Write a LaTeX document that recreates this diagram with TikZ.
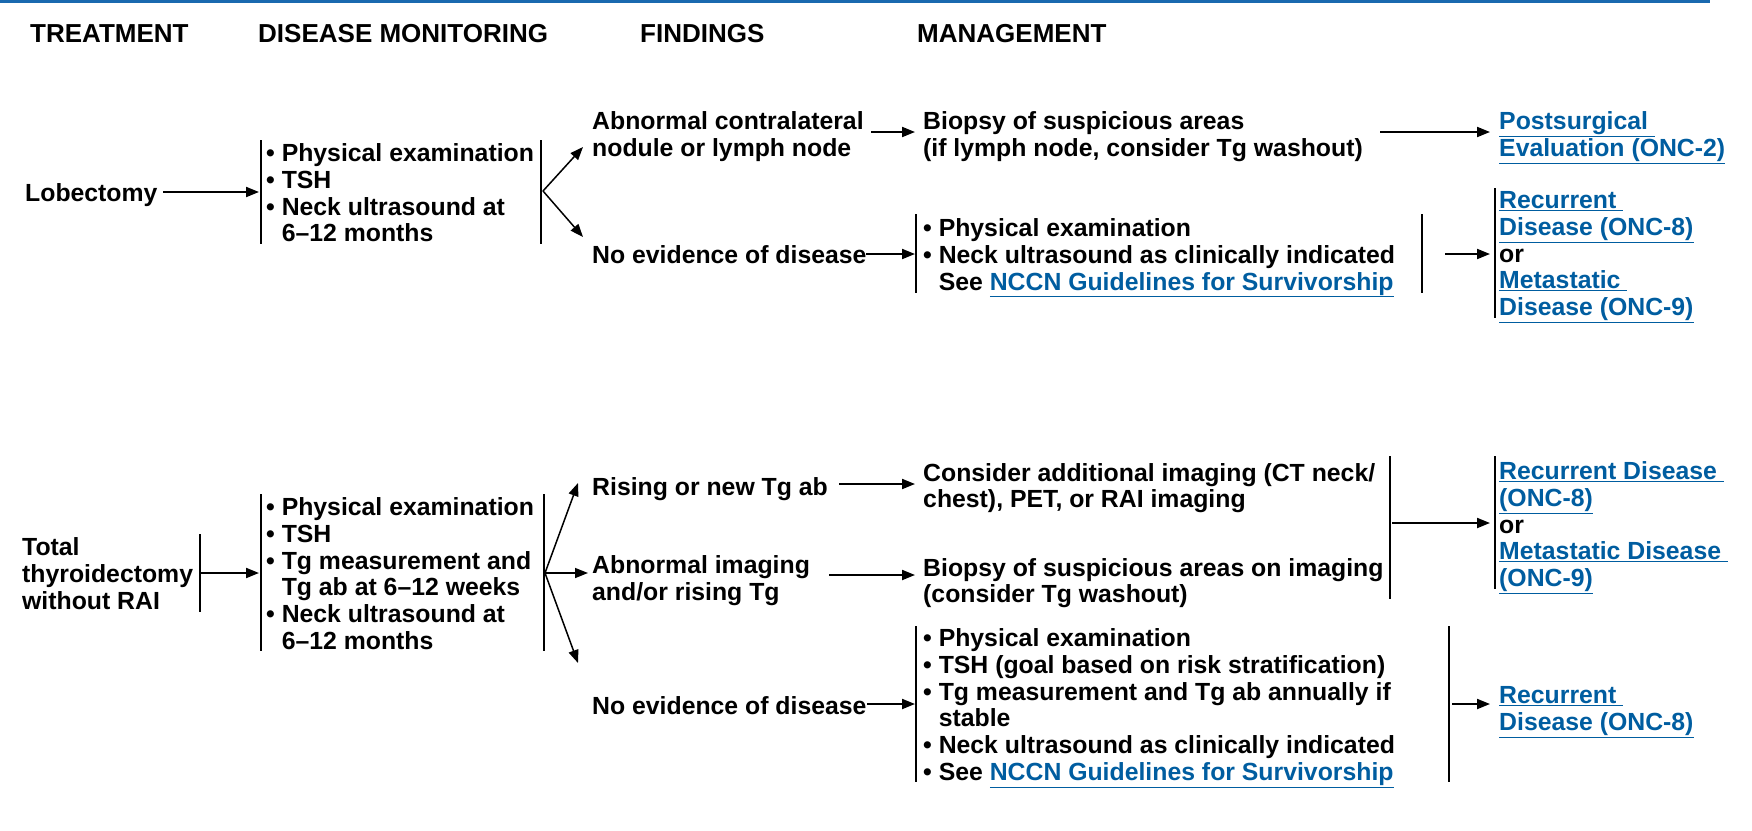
\documentclass[tikz,border=0pt]{standalone}
\usepackage{fontspec}
\setmainfont{Liberation Sans}
\usetikzlibrary{arrows.meta}
\definecolor{lnk}{RGB}{0,93,160}
\definecolor{topline}{RGB}{25,105,175}
\newcommand{\lk}[1]{{\color{lnk}\underline{#1}}}
\newcommand{\ind}{\hphantom{•\ }}
\begin{document}
\begin{tikzpicture}[x=1pt,y=-1pt,
  txt/.style={anchor=base west, inner sep=0pt, align=left, font=\bfseries\fontsize{24.8}{26.8}\selectfont},
  hdr/.style={anchor=base west, inner sep=0pt, font=\bfseries\fontsize{26}{28}\selectfont},
  arr/.style={line width=2pt, -{Triangle[length=13pt,width=10pt]}},
  brarr/.style={line width=1.5pt, -{Triangle[length=13pt,width=10pt]}},
  brk/.style={line width=1.3pt}]
\useasboundingbox (0,0) rectangle (1752,830);
\draw[topline, line width=2.5pt] (0,1.5) -- (1710,1.5);
% headers
\node[hdr] (hT) at (30,42) {TREATMENT};
\node[hdr] (hD) at (258,42) {DISEASE MONITORING};
\node[hdr] (hF) at (640,42) {FINDINGS};
\node[hdr] (hM) at (917,42) {MANAGEMENT};
% row 1 (anchors at baseline of last line)
\node[txt] (lob) at (25,201.5) {Lobectomy};
\node[txt] (mon1) at (266,241.9) {• Physical examination\\• TSH\\• Neck ultrasound at\\\ind 6–12 months};
\node[txt] (f1a) at (592,156.3) {Abnormal contralateral\\nodule or lymph node};
\node[txt] (m1a) at (923,156.3) {Biopsy of suspicious areas\\(if lymph node, consider Tg washout)};
\node[txt] (o1a) at (1499,156.3) {\lk{Postsurgical }\\\lk{Evaluation (ONC-2)}};
\node[txt] (f1b) at (592,263.5) {No evidence of disease};
\node[txt] (m1b) at (923,290.1) {• Physical examination\\• Neck ultrasound as clinically indicated\\\ind See \lk{NCCN Guidelines for Survivorship}};
\node[txt] (o1b) at (1499,315.7) {\lk{Recurrent }\\\lk{Disease (ONC-8)}\\or\\\lk{Metastatic }\\\lk{Disease (ONC-9)}};
% row 2
\node[txt] (tot) at (22,609.1) {Total\\thyroidectomy\\without RAI};
\node[txt] (mon2) at (266,649.5) {• Physical examination\\• TSH\\• Tg measurement and\\\ind Tg ab at 6–12 weeks\\• Neck ultrasound at\\\ind 6–12 months};
\node[txt] (f2a) at (592,495.5) {Rising or new Tg ab};
\node[txt] (f2b) at (592,600.3) {Abnormal imaging\\and/or rising Tg};
\node[txt] (m2a) at (923,507.8) {Consider additional imaging (CT neck/\\chest), PET, or RAI imaging};
\node[txt] (m2b) at (923,602.8) {Biopsy of suspicious areas on imaging\\(consider Tg washout)};
\node[txt] (o2a) at (1499,586.7) {\lk{Recurrent Disease }\\\lk{(ONC-8)}\\or\\\lk{Metastatic Disease }\\\lk{(ONC-9)}};
\node[txt] (f2c) at (592,714.5) {No evidence of disease};
\node[txt] (m2c) at (923,780.5) {• Physical examination\\• TSH (goal based on risk stratification)\\• Tg measurement and Tg ab annually if\\\ind stable\\• Neck ultrasound as clinically indicated\\• See \lk{NCCN Guidelines for Survivorship}};
\node[txt] (o2c) at (1499,730.3) {\lk{Recurrent }\\\lk{Disease (ONC-8)}};
% brackets row 1
\draw[brk] (261,140) -- (261,244);
\draw[brk] (541,140) -- (541,244);
\draw[brk] (916,214) -- (916,293);
\draw[brk] (1422,214) -- (1422,293);
\draw[brk] (1495,188) -- (1495,318);
% brackets row 2
\draw[brk] (200,534) -- (200,612);
\draw[brk] (261,494) -- (261,651);
\draw[brk] (544,494) -- (544,651);
\draw[brk] (1390,456) -- (1390,599);
\draw[brk] (1495,456) -- (1495,589);
\draw[brk] (916,626) -- (916,782);
\draw[brk] (1449,626) -- (1449,782);
% connector points
\coordinate (r1) at (543,191);
\coordinate (r2) at (545,573);
% row 1 arrows
\draw[arr] (163,192) -- (259,192);
\draw[brarr] (r1) -- (583,147);
\draw[brarr] (r1) -- (583,237);
\draw[arr] (871,132) -- (915,132);
\draw[arr] (1380,132) -- (1490,132);
\draw[arr] (866,254) -- (915,254);
\draw[arr] (1445,254) -- (1490,254);
% row 2 arrows
\draw[arr] (200,573) -- (259,573);
\draw[brarr] (r2) -- (578,483);
\draw[brarr] (r2) -- (588,573);
\draw[brarr] (r2) -- (578,663);
\draw[arr] (839,484) -- (915,484);
\draw[arr] (829,575) -- (915,575);
\draw[arr] (1392,523) -- (1490,523);
\draw[arr] (867,704) -- (915,704);
\draw[arr] (1452,704) -- (1490,704);
\end{tikzpicture}
\end{document}
